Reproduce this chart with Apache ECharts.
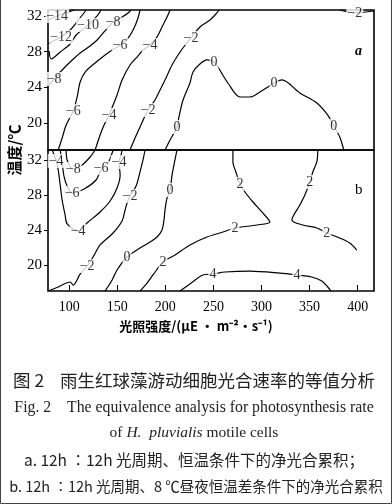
<!DOCTYPE html>
<html><head><meta charset="utf-8">
<script src="https://cdn.jsdelivr.net/npm/echarts@6/dist/echarts.min.js"></script>
<style>html,body{margin:0;padding:0;background:#fff}#c{width:392px;height:504px}</style>
</head><body><div id="c"></div>
<script>
// ---- axis ticks ----
const xTicks = [100, 150, 200, 250, 300, 350, 400];
const yTicks = [20, 24, 28, 32];

// ---- panel a contour lines (light, temperature) ----
const aM14 = [[78.2,31.55],[87.5,32.0],[105.2,32.67]];
const aM12 = [[78.2,28.86],[85.5,29.31],[91.7,29.65],[101.0,30.43],[111.4,31.78],[117.7,32.67]];
const aM10 = [[79.2,28.08],[81.3,27.18],[90.7,27.96],[101.0,28.86],[107.3,29.87],[119.7,30.99],[129.1,32.0],[133.2,32.67]];
const aM8 = [[78.2,24.15],[84.4,24.94],[90.7,25.72],[101.0,26.84],[111.4,27.85],[121.8,28.64],[129.1,29.31],[136.3,30.21],[145.7,31.33],[155.0,31.89],[161.3,32.34],[164.4,32.67]];
const aM6 = [[88.6,16.98],[92.7,18.32],[96.9,19.78],[104.2,21.35],[108.3,22.92],[111.4,24.60],[116.6,25.72],[127.0,26.73],[137.4,27.63],[144.7,28.19],[153.0,28.75],[161.3,29.53],[167.5,30.65],[171.6,31.78],[173.7,32.67]];
const aM4 = [[127.0,16.98],[132.2,18.66],[136.3,19.78],[141.5,20.90],[145.7,22.02],[149.8,23.14],[155.0,24.83],[163.3,26.51],[170.6,27.40],[176.8,28.19],[184.1,28.75],[191.4,29.65],[197.6,30.99],[201.8,31.89],[204.9,32.67]];
const aM2 = [[163.3,16.98],[168.5,18.32],[173.7,19.56],[182.0,21.46],[189.3,22.58],[194.5,23.70],[199.7,24.83],[207.0,26.51],[215.3,27.96],[221.5,28.86],[226.7,29.53],[236.0,30.77],[246.4,31.55],[252.6,32.22],[255.8,32.67]];
const aM2b = [[381.4,32.67],[397.0,32.34],[416.7,32.56]];
const a0 = [[199.7,16.98],[204.9,18.10],[209.0,18.88],[212.1,19.56],[214.2,20.68],[218.4,22.58],[225.6,24.49],[228.8,25.72],[236.0,26.62],[243.3,27.07],[250.6,26.84],[254.7,26.28],[265.1,24.49],[277.6,22.92],[288.0,22.92],[298.3,23.48],[306.6,24.04],[312.9,24.49],[321.2,24.83],[339.9,23.37],[357.5,22.25],[368.9,20.90],[375.2,19.67],[381.4,18.44],[385.6,16.98]];
const aLabels = [[87.5,32.0,'−14'],[91.7,29.65,'−12'],[119.7,30.99,'−10'],[84.4,24.94,'−8'],[145.7,31.33,'−8'],[104.2,21.35,'−6'],[153.0,28.75,'−6'],[141.5,20.90,'−4'],[184.1,28.75,'−4'],[182.0,21.46,'−2'],[226.7,29.53,'−2'],[397.0,32.34,'−2'],[212.1,19.56,'0'],[250.6,26.84,'0'],[312.9,24.49,'0'],[375.2,19.67,'0']];

// ---- panel b contour lines ----
const bM8 = [[96.9,33.14],[97.9,32.0],[104.2,30.97],[113.5,31.43],[121.8,32.34],[127.0,33.14]];
const bM6 = [[90.7,33.14],[92.7,31.66],[94.8,30.06],[97.9,29.03],[103.1,28.23],[115.6,28.69],[128.0,29.71],[133.2,30.86],[140.5,31.66],[143.6,32.46],[145.7,33.14]];
const bM4 = [[82.3,33.14],[84.4,32.57],[86.5,31.89],[88.6,30.86],[90.7,29.14],[92.7,27.43],[95.8,25.71],[97.9,24.69],[109.3,23.88],[119.7,24.91],[132.2,26.06],[142.6,27.31],[149.8,28.80],[153.0,30.29],[151.9,31.77],[154.0,32.57],[155.0,33.14]];
const bM2 = [[78.2,17.03],[88.6,17.49],[101.0,18.06],[104.2,17.71],[111.4,18.97],[118.7,19.88],[124.9,20.91],[132.2,22.29],[145.7,23.66],[155.0,25.03],[158.2,26.29],[160.2,27.09],[163.3,27.89],[169.6,29.03],[173.7,30.63],[176.8,32.0],[178.9,33.14]];
const b0 = [[137.4,17.03],[144.7,18.29],[149.8,19.43],[160.2,20.91],[173.7,21.94],[184.1,22.63],[191.4,23.20],[196.6,24.0],[198.6,25.14],[199.7,26.29],[201.8,27.66],[204.9,28.57],[207.0,30.29],[209.0,31.43],[212.1,33.14]];
const b2 = [[173.7,17.03],[181.0,17.94],[187.2,18.86],[197.6,20.34],[210.1,21.14],[225.6,22.29],[243.3,23.20],[259.9,23.77],[272.4,24.23],[295.2,24.57],[308.7,24.91],[300.4,26.06],[291.1,27.20],[282.8,28.34],[277.6,29.26],[273.4,30.63],[270.3,31.77],[270.3,33.14]];
const b2r = [[358.6,33.14],[357.5,31.77],[353.4,30.63],[350.3,29.49],[345.1,28.0],[339.9,26.86],[331.6,25.14],[343.0,24.57],[357.5,24.23],[367.9,23.66],[381.4,23.08],[391.8,22.51],[399.1,21.71]];
const b4 = [[215.3,17.03],[225.6,17.83],[239.1,18.86],[249.5,18.97],[262.0,19.20],[288.0,19.31],[319.1,19.08],[336.8,18.86],[352.3,18.63],[362.7,18.17],[368.9,17.49],[372.1,17.03]];
const bLabels = [[86.5,31.89,'−4'],[104.2,30.97,'−8'],[133.2,31.09,'−6'],[151.9,31.77,'−4'],[103.1,28.23,'−6'],[109.3,23.88,'−4'],[163.3,27.89,'−2'],[118.7,19.88,'−2'],[204.9,28.57,'0'],[160.2,20.91,'0'],[197.6,20.34,'2'],[272.4,24.23,'2'],[277.6,29.26,'2'],[350.3,29.49,'2'],[367.9,23.66,'2'],[249.5,18.97,'4'],[336.8,18.86,'4']];

const xRange = [78, 417];
const aRange = [16.98, 32.67];
const bRange = [17.03, 33.14];

const SERIF = 'Liberation Serif';

function lineSeries(list, gi) {
  return list.map(d => ({
    type: 'line', xAxisIndex: gi, yAxisIndex: gi, data: d,
    symbol: 'none', smooth: 0.3, silent: true, z: 2,
    lineStyle: { color: '#000', width: 1.2 }
  }));
}
function labelSeries(list, gi) {
  return {
    type: 'scatter', xAxisIndex: gi, yAxisIndex: gi, data: list,
    symbolSize: 0, silent: true, z: 5, clip: false,
    label: {
      show: true, position: 'inside', formatter: p => p.value[2],
      color: '#000', fontFamily: SERIF, fontSize: 14,
      backgroundColor: '#fff', padding: [0, 1]
    }
  };
}

const chart = echarts.init(document.getElementById('c'), null, { renderer: 'canvas' });
const gridCommon = { left: 48, width: 326, show: true, borderColor: '#000', borderWidth: 1.6, backgroundColor: 'transparent' };
const xBase = {
  type: 'value', min: xRange[0], max: xRange[1],
  splitLine: { show: false }, axisLine: { show: false }
};
const yBase = (r) => ({
  type: 'value', min: r[0], max: r[1],
  splitLine: { show: false }, axisLine: { show: false },
  axisTick: { show: true, customValues: yTicks, length: 4, lineStyle: { color: '#000' } },
  axisLabel: { customValues: yTicks, fontFamily: SERIF, fontSize: 15, color: '#000', margin: 6 }
});

chart.setOption({
  animation: false,
  backgroundColor: '#fff',
  grid: [
    Object.assign({ top: 10, height: 140 }, gridCommon),
    Object.assign({ top: 150, height: 141 }, gridCommon)
  ],
  xAxis: [
    Object.assign({ gridIndex: 0, axisTick: { show: false }, axisLabel: { show: false } }, xBase),
    Object.assign({ gridIndex: 1,
      axisTick: { show: true, inside: true, length: 6, customValues: xTicks, lineStyle: { color: '#000' } },
      axisLabel: { customValues: xTicks, fontFamily: SERIF, fontSize: 14, color: '#000', margin: 9 } }, xBase)
  ],
  yAxis: [
    Object.assign({ gridIndex: 0 }, yBase(aRange)),
    Object.assign({ gridIndex: 1 }, yBase(bRange))
  ],
  series: [].concat(
    lineSeries([aM14, aM12, aM10, aM8, aM6, aM4, aM2, aM2b, a0], 0),
    lineSeries([bM8, bM6, bM4, bM2, b0, b2, b2r, b4], 1),
    [labelSeries(aLabels, 0), labelSeries(bLabels, 1)]
  ),
  graphic: [
    { type: 'polyline', silent: true, shape: { points: [[0.5, 0], [0.5, 503.5], [391.5, 503.5], [391.5, 0]] }, style: { stroke: '#444', lineWidth: 1, fill: null } },
    { type: 'text', left: 355, top: 44, style: { text: 'a', font: 'italic bold 14px "Liberation Serif"', fill: '#000' } },
    { type: 'text', left: 355, top: 183, style: { text: 'b', font: '15px "Liberation Serif"', fill: '#000' } },
    { type: 'text', x: 14, y: 150, rotation: Math.PI / 2, style: { text: '温度/℃', font: 'bold 15px "Noto Sans CJK SC"', fill: '#000', align: 'center', verticalAlign: 'middle' } },
    { type: 'text', x: 196, y: 326, style: { text: '光照强度/(μE · m⁻²·s⁻¹)', font: 'bold 13px "Noto Sans CJK SC", "Liberation Serif"', fill: '#000', align: 'center', verticalAlign: 'middle' } },
    { type: 'text', x: 194, y: 380, style: { text: '图 2    雨生红球藻游动细胞光合速率的等值分析', font: '17.5px "Noto Sans CJK SC"', fill: '#222', align: 'center', verticalAlign: 'middle' } },
    { type: 'text', x: 194, y: 408, style: { text: 'Fig. 2    The equivalence analysis for photosynthesis rate', font: '15.8px "Liberation Serif"', fill: '#222', align: 'center', verticalAlign: 'middle' } },
    { type: 'text', x: 194, y: 433, style: { text: '{n|of }{i|H.  pluvialis}{n| motile cells}', align: 'center', verticalAlign: 'middle', rich: { n: { font: '15.5px "Liberation Serif"', fill: '#222' }, i: { font: 'italic 15.5px "Liberation Serif"', fill: '#222' } } } },
    { type: 'text', x: 194, y: 460, style: { text: 'a. 12h ∶12h 光周期、恒温条件下的净光合累积；', font: '15.5px "Noto Sans CJK SC"', fill: '#222', align: 'center', verticalAlign: 'middle' } },
    { type: 'text', x: 196, y: 486, style: { text: 'b. 12h ∶12h 光周期、8 ℃昼夜恒温差条件下的净光合累积', font: '14.5px "Noto Sans CJK SC"', fill: '#222', align: 'center', verticalAlign: 'middle' } }
  ]
});
</script>
</body></html>
